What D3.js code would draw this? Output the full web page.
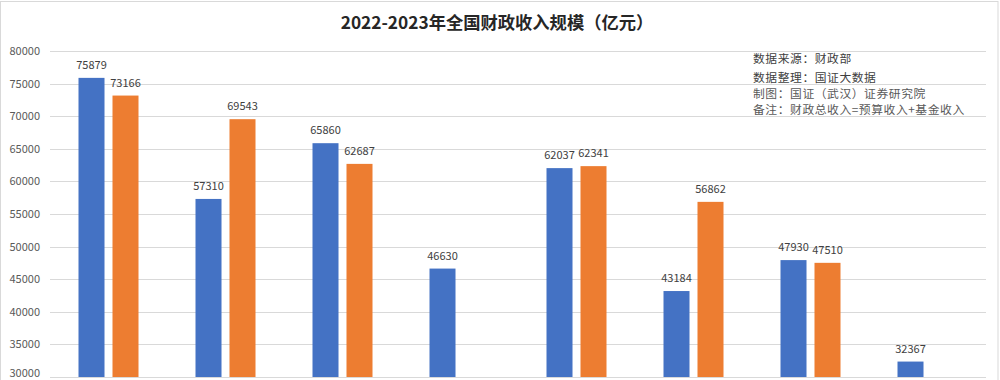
<!DOCTYPE html>
<html><head><meta charset="utf-8">
<script src="https://cdn.jsdelivr.net/npm/d3@7"></script>
<style>
html,body{margin:0;padding:0;background:#fff;}
svg{display:block;font-family:"Microsoft YaHei","Noto Sans CJK SC","DejaVu Sans",sans-serif;}
</style></head>
<body><svg id="c" width="1000" height="380"></svg>
<script>
const categories = ["1月","2月","3月","4月","5月","6月","7月","8月"];
const seriesNames = ["2022","2023"];
const values2022 = [75879, 57310, 65860, 46630, 62037, 43184, 47930, 32367];
const values2023 = [73166, 69543, 62687, null, 62341, 56862, 47510, null];
const yTicks = [30000,35000,40000,45000,50000,55000,60000,65000,70000,75000,80000];
const title = "2022-2023年全国财政收入规模（亿元）";
const notes = ["数据来源：财政部","数据整理：国证大数据","制图：国证（武汉）证券研究院","备注：财政总收入=预算收入+基金收入"];
const colors = {"2022":"#4472C4","2023":"#ED7D31"};

const svg = d3.select("#c");
const W = 1000, H = 380;
const m = {left:50, right:14, top:51, bottom:3};

svg.append("rect").attr("x",0.5).attr("y",1.5).attr("width",997.5).attr("height",H)
  .attr("fill","#fff").attr("stroke","#d9d9d9");

const x0 = d3.scaleBand().domain(categories).range([m.left, W-m.right]).padding(0);
const x1 = d3.scaleBand().domain(seriesNames).range([x0.bandwidth()/2-30, x0.bandwidth()/2+30]).paddingInner(0.235);
const y = d3.scaleLinear().domain([30000,80000]).range([H-m.bottom, m.top]);

// gridlines
svg.append("g").selectAll("line").data(yTicks).join("line")
  .attr("x1",m.left).attr("x2",W-m.right)
  .attr("y1",d=>Math.round(y(d))+0.5).attr("y2",d=>Math.round(y(d))+0.5)
  .attr("stroke","#d9d9d9").attr("stroke-width",1);

// y axis labels
const yAxis = d3.axisLeft(y).tickValues(yTicks).tickSize(0).tickPadding(10).tickFormat(d3.format("d"));
const ga = svg.append("g").attr("transform",`translate(${m.left},0)`).call(yAxis);
ga.select(".domain").remove();
ga.selectAll("text").attr("fill","#595959").attr("font-size","11px")
  .attr("font-family","'Microsoft YaHei','Noto Sans CJK SC',sans-serif");
ga.selectAll(".tick").filter(d=>d===30000).select("text").attr("dy","-0.05em");

const data = categories.map((c,i)=>({cat:c, vals:[{s:"2022",v:values2022[i]},{s:"2023",v:values2023[i]}]}));

const g = svg.append("g").selectAll("g").data(data).join("g")
  .attr("transform",d=>`translate(${x0(d.cat)},0)`);
const bars = g.selectAll("g").data(d=>d.vals.filter(e=>e.v!=null)).join("g");
bars.append("rect")
  .attr("x",d=>x1(d.s)).attr("width",x1.bandwidth())
  .attr("y",d=>y(d.v)).attr("height",d=>y(30000)-y(d.v))
  .attr("fill",d=>colors[d.s]);
bars.append("text")
  .attr("x",d=>x1(d.s)+x1.bandwidth()/2).attr("y",d=>y(d.v)-9)
  .attr("text-anchor","middle").attr("font-size","11px").attr("fill","#404040")
  .text(d=>d.v);

// title
svg.append("text").attr("x",497).attr("y",29).attr("text-anchor","middle")
  .attr("font-size","17.3px").attr("font-weight","bold").attr("fill","#262626").text(title);

// notes
const noteY = [63, 82, 98, 114];
svg.append("g").selectAll("text").data(notes).join("text")
  .attr("x",753).attr("y",(d,i)=>noteY[i]).attr("font-size","11.8px")
  .attr("letter-spacing","0.55px")
  .attr("fill",(d,i)=>i<2?"#404040":"#595959").text(d=>d);
</script></body></html>
